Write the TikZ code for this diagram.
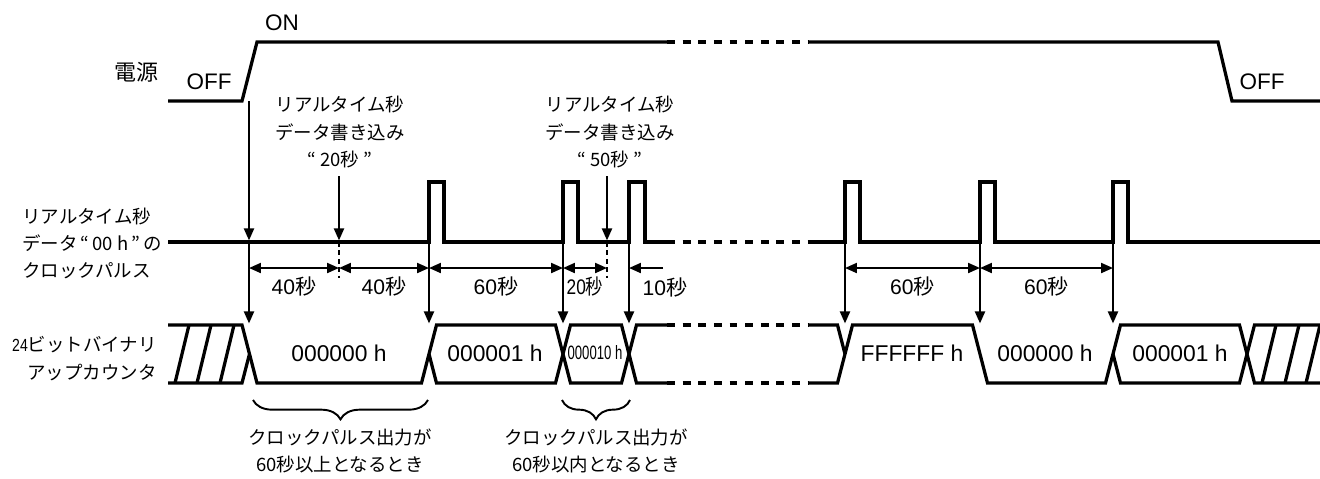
\documentclass[tikz,border=0pt]{standalone}
\usepackage{graphicx}
\usepackage{fontspec}
\setmainfont{Liberation Sans}
\newfontfamily\jp{Noto Sans CJK JP}
\usetikzlibrary{arrows.meta,decorations.pathreplacing}

\begin{document}
\begin{tikzpicture}[x=0.02cm,y=-0.02cm,
  sig/.style={line width=1.85pt,line join=miter},
  gap/.style={sig,dash pattern=on 4.5pt off 4.4pt},
  evt/.style={line width=1.1pt,shorten >=0.9pt,-{Triangle[length=6.8pt,width=5.7pt]}},
  dim/.style={line width=1.1pt,{Triangle[length=6.8pt,width=5.7pt]}-{Triangle[length=6.8pt,width=5.7pt]}},
  dotln/.style={line width=1.1pt,dash pattern=on 2.8pt off 2pt},
  brc/.style={decorate,decoration={brace,mirror,amplitude=11pt},line width=1.1pt},
  lab/.style={font=\jp\fontsize{10.5}{15.6}\selectfont,align=center,inner sep=0pt},
  lat/.style={font=\fontsize{12.8}{15}\selectfont,inner sep=0pt},
  val/.style={font=\fontsize{13}{15}\selectfont,inner sep=0pt},
  tsec/.style={font=\fontsize{12}{14}\selectfont,inner sep=0pt}]
  \useasboundingbox (0,0) rectangle (1320,478);

  % reference rows
  \coordinate (clk) at (0,242);
  \coordinate (cnt) at (0,325);
  \coordinate (dm) at (0,268);
  \coordinate (on) at (249,101);
  \foreach \n/\x in {p0/249,p1/429,p2/563,p3/629,p4/845,p5/980,p6/1113,w1/339,w2/607}
    \coordinate (\n) at (\x,242);
  \coordinate (w1a) at (339,176);
  \coordinate (w2a) at (607,176);
  \coordinate (tail) at (663,268);

  % power
  \draw[sig] (168,101) -- (242,101) -- (257,42) -- (667,42);
  \draw[gap] (667,42) -- (808,42);
  \draw[sig] (808,42) -- (1218,42) -- (1232,101) -- (1320,101);

  % clock pulses
  \draw[sig] (168,242) -- (429,242) -- ++(0,-60) -- ++(15,0) -- ++(0,60)
    -- (563,242) -- ++(0,-60) -- ++(15,0) -- ++(0,60)
    -- (629,242) -- ++(0,-60) -- ++(16,0) -- ++(0,60) -- (667,242);
  \draw[gap] (667,242) -- (808,242);
  \draw[sig] (808,242) -- (845,242) -- ++(0,-60) -- ++(15,0) -- ++(0,60)
    -- (980,242) -- ++(0,-60) -- ++(15,0) -- ++(0,60)
    -- (1113,242) -- ++(0,-60) -- ++(15,0) -- ++(0,60) -- (1320,242);

  % counter
  \draw[sig] (168,325) -- (242,325) -- (257,383) -- (421.5,383) -- (436.5,325)
    -- (555.5,325) -- (570.5,383) -- (621.5,383) -- (636.5,325) -- (667,325);
  \draw[sig] (168,383) -- (242,383) -- (249.5,354);
  \draw[sig] (429,354) -- (436.5,383) -- (555.5,383) -- (570.5,325)
    -- (621.5,325) -- (636.5,383) -- (667,383);
  \draw[gap] (667,325) -- (808,325);
  \draw[gap] (667,383) -- (808,383);
  \draw[sig] (808,325) -- (837.5,325) -- (845,354);
  \draw[sig] (808,383) -- (837.5,383) -- (852.5,325) -- (972.5,325) -- (987.5,383)
    -- (1105.5,383) -- (1120.5,325) -- (1239.5,325) -- (1254.5,383) -- (1320,383);
  \draw[sig] (1113,354) -- (1120.5,383) -- (1239.5,383) -- (1254.5,325) -- (1320,325);
  \foreach \x in {175,197,220,1262,1285,1306}
    \draw[sig] (\x,383) -- ++(14,-58);

  % events
  \draw[evt] (on) -- (p0);
  \foreach \n in {p0,p1,p2,p3,p4,p5,p6}
    \draw[evt] (\n) -- (\n |- cnt);
  \draw[evt] (w1a) -- (w1);
  \draw[evt] (w2a) -- (w2);
  \draw[dotln] (w1) -- ++(0,36);
  \draw[dotln] (w2) -- ++(0,36);

  % intervals
  \foreach \a/\b/\t in {p0/w1/40,w1/p1/40,p1/p2/60,p4/p5/60,p5/p6/60}
    \draw[dim] (\a |- dm) -- (\b |- dm) node[tsec,midway,yshift=-10.8pt] {\t{\jp 秒}};
  \draw[dim] (p2 |- dm) -- (w2 |- dm)
    node[tsec,midway,yshift=-10.8pt] {\scalebox{0.82}[1]{20{\jp 秒}}};
  \draw[evt,shorten >=0pt] (tail) -- (p3 |- dm);
  \node[tsec] (t10) at (665,287) {10{\jp 秒}};

  % labels
  \node[lab,font=\jp\fontsize{12.5}{15}\selectfont] (pwr) at (136,72) {電源};
  \node[lat] (on1) at (282,23) {ON};
  \node[lat] (off1) at (209,82) {OFF};
  \node[lat] (off2) at (1262,82) {OFF};
  \node[lab,anchor=west] (ck1) at (22,216) {リアルタイム秒};
  \node[lab,anchor=west] (ck2) at (22,243) {データ\,“\,00 h\,”\,の};
  \node[lab,anchor=west] (ck3) at (22,271) {クロックパルス};
  \node[lab,anchor=east] (ct1) at (157,345) {{\rmfamily\fontsize{10}{12}\selectfont\scalebox{0.8}[1]{24}}ビットバイナリ};
  \node[lab,anchor=east] (ct2) at (157,373) {アップカウンタ};
  \node[lab] (wr1) at (340,132) {リアルタイム秒\\データ書き込み\\“ 20秒 ”};
  \node[lab] (wr2) at (610,132) {リアルタイム秒\\データ書き込み\\“ 50秒 ”};

  % counter values
  \node[val] (v0) at (339,353) {000000 h};
  \node[val] (v1) at (495,353) {000001 h};
  \node[val] (v2) at (595,353) {\scalebox{0.68}[1]{\fontsize{11}{13}\selectfont 000010 h}};
  \node[val] (v3) at (912,353) {FFFFFF h};
  \node[val] (v4) at (1045,353) {000000 h};
  \node[val] (v5) at (1180,353) {000001 h};

  % braces
  \draw[brc] (253,400) -- (428,400);
  \draw[brc] (562,400) -- (630,400);
  \node[lab] (br1) at (340,451) {クロックパルス出力が\\60秒以上となるとき};
  \node[lab] (br2) at (596,451) {クロックパルス出力が\\60秒以内となるとき};
\end{tikzpicture}
\end{document}
